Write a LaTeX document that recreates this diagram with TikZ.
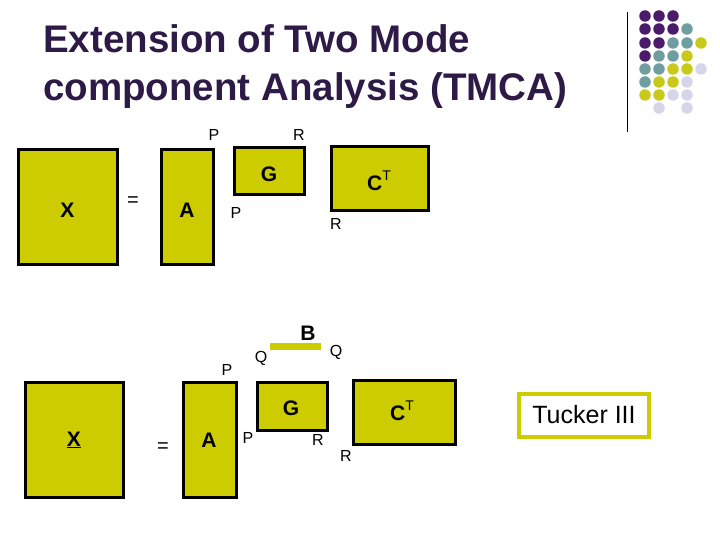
\documentclass[tikz,border=0pt]{standalone}
\usepackage{fontspec}
\setmainfont{Liberation Sans}
\definecolor{mat}{HTML}{CCCC00}
\definecolor{pu}{HTML}{4A1B6B}
\definecolor{te}{HTML}{6F9DA0}
\definecolor{ye}{HTML}{C9C91C}
\definecolor{la}{HTML}{D6D6E8}
\definecolor{ttl}{HTML}{2E1A47}
\begin{document}
\begin{tikzpicture}[x=1pt,y=-1pt,
  mbox/.style={draw=black,line width=3pt,fill=mat},
  lbl/.style={font=\fontsize{16}{16}\selectfont,inner sep=0pt},
  big/.style={font=\fontsize{21}{21}\bfseries\selectfont,inner sep=0pt},
  dt/.style={circle,inner sep=0pt,minimum size=11.5pt}]
\useasboundingbox (0,0) rectangle (720,540);
\node[anchor=base west,inner sep=0pt,text=ttl,font=\fontsize{38.5}{48}\bfseries\selectfont] (title) at (43,53) {Extension of Two Mode};
\node[anchor=base west,inner sep=0pt,text=ttl,font=\fontsize{38.5}{48}\bfseries\selectfont] (title2) at (43,101) {component Analysis (TMCA)};
\draw[line width=0.8pt] (627,12) coordinate (v1) -- (627,132) coordinate (v2);
% dots
\foreach \c/\x/\y in {pu/645/16,pu/659/16,pu/673/16,
 pu/645/29,pu/659/29,pu/673/29,te/687/29,
 pu/645/43,pu/659/43,te/673/43,te/687/43,ye/701/43,
 pu/645/56,te/659/56,te/673/56,ye/687/56,
 te/645/69,te/659/69,ye/673/69,ye/687/69,la/701/69,
 te/645/82,ye/659/82,ye/673/82,la/687/82,
 ye/645/95,ye/659/95,la/673/95,la/687/95,
 la/659/108,la/687/108}
  \node[dt,fill=\c] at (\x,\y) {};
% top equation
\draw[mbox] (18,150) rectangle (117,264); \node[big] (x1) at (67.5,210) {X};
\node[lbl,font=\fontsize{20}{20}\selectfont] (e1) at (133,202) {=};
\draw[mbox] (161,150) rectangle (213,264); \node[big] (a1) at (187,210) {A};
\draw[mbox] (234,148) rectangle (304,195); \node[big] (g1) at (269,174) {G};
\draw[mbox] (331,147) rectangle (428,211); \node[big] (c1) at (379,181) {C\raisebox{0.45em}{\mdseries\fontsize{14}{14}\selectfont T}};
\node[lbl] (p1) at (214,135) {P};
\node[lbl] (r1) at (299,135) {R};
\node[lbl] (p2) at (236,213) {P};
\node[lbl] (r2) at (336,224) {R};
% bottom
\draw[mbox] (25,382) rectangle (123,497); \node[big] (x2) at (74,440) {\underline{X}};
\node[lbl,font=\fontsize{20}{20}\selectfont] (e2) at (163,448) {=};
\draw[mbox] (183,382) rectangle (236,497); \node[big] (a2) at (209,440) {A};
\draw[mbox] (257,382) rectangle (327,430); \node[big] (g2) at (291,408) {G};
\draw[mbox] (353,380) rectangle (455,444); \node[big] (c2) at (402,411) {C\raisebox{0.45em}{\mdseries\fontsize{14}{14}\selectfont T}};
\draw[mat,line width=7pt] (270,346) coordinate (b1) -- (321,346) coordinate (b2);
\node[big] (bl) at (308,333) {B};
\node[lbl] (q1) at (261,358) {Q};
\node[lbl] (q2) at (336,352) {Q};
\node[lbl] (p3) at (227,370) {P};
\node[lbl] (p4) at (248,438) {P};
\node[lbl] (r3) at (318,440) {R};
\node[lbl] (r4) at (346,456) {R};
\node[draw=mat,line width=4pt,fill=white,minimum width=130pt,minimum height=43pt,inner sep=0pt,font=\fontsize{25}{25}\selectfont] (tk) at (584,415) {Tucker III};
\end{tikzpicture}
\end{document}
